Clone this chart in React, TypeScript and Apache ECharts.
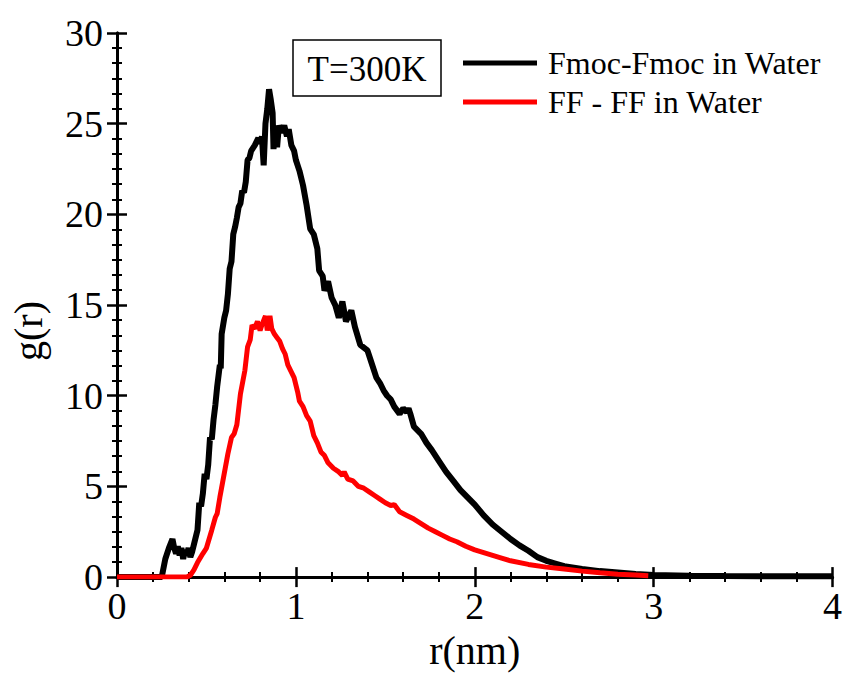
import React, { useEffect, useRef } from "react";
import * as echarts from "echarts";

const xTicks = [0, 1, 2, 3, 4];
const yTicks = [0, 5, 10, 15, 20, 25, 30];

const seriesNames = ["Fmoc-Fmoc in Water", "FF - FF in Water"];
const annotation = "T=300K";

const rBlack = [0, 0.25, 0.27, 0.29, 0.31, 0.32, 0.33, 0.34, 0.35, 0.36, 0.37, 0.38, 0.39, 0.40, 0.41, 0.42, 0.43, 0.45, 0.46, 0.47, 0.48, 0.49, 0.50, 0.51, 0.52, 0.53, 0.54, 0.55, 0.56, 0.575, 0.58, 0.585, 0.60, 0.61, 0.62, 0.63, 0.64, 0.65, 0.66, 0.67, 0.68, 0.69, 0.70, 0.71, 0.72, 0.73, 0.74, 0.75, 0.77, 0.79, 0.80, 0.81, 0.82, 0.83, 0.84, 0.85, 0.86, 0.87, 0.875, 0.885, 0.895, 0.905, 0.92, 0.935, 0.95, 0.96, 0.975, 0.99, 1.00, 1.02, 1.04, 1.06, 1.08, 1.10, 1.12, 1.13, 1.15, 1.16, 1.18, 1.20, 1.22, 1.24, 1.26, 1.28, 1.31, 1.33, 1.36, 1.40, 1.42, 1.45, 1.47, 1.49, 1.51, 1.53, 1.55, 1.58, 1.60, 1.62, 1.63, 1.64, 1.66, 1.70, 1.73, 1.76, 1.80, 1.84, 1.88, 1.92, 1.96, 2.00, 2.05, 2.10, 2.15, 2.20, 2.25, 2.30, 2.35, 2.40, 2.45, 2.50, 2.60, 2.70, 2.80, 2.90, 3.00, 3.20, 3.40, 3.60, 3.80, 4.00];
const gBlack = [0, 0, 1.0, 1.6, 2.1, 1.6, 1.3, 1.7, 1.2, 1.6, 1.0, 1.5, 1.2, 1.6, 1.1, 1.4, 1.8, 2.6, 4.1, 3.9, 4.6, 5.7, 5.4, 6.2, 7.7, 7.6, 8.7, 9.5, 10.5, 11.7, 11.5, 13.4, 14.3, 14.7, 15.6, 17.0, 17.4, 18.9, 19.3, 19.8, 20.4, 20.6, 21.3, 21.2, 21.8, 23.0, 23.1, 23.5, 23.8, 24.2, 23.9, 24.3, 22.7, 25.0, 25.8, 26.9, 26.3, 25.6, 23.6, 24.8, 23.7, 24.9, 24.5, 24.9, 24.3, 24.7, 23.8, 23.5, 23.0, 22.4, 21.6, 20.5, 19.2, 18.9, 18.1, 16.9, 16.6, 15.8, 16.3, 15.4, 15.0, 14.3, 15.2, 14.1, 14.7, 13.8, 12.8, 12.5, 11.9, 11.0, 10.7, 10.3, 10.0, 9.8, 9.4, 9.0, 9.3, 9.1, 9.3, 9.0, 8.3, 7.9, 7.4, 7.0, 6.4, 5.8, 5.3, 4.8, 4.4, 4.0, 3.4, 2.9, 2.5, 2.1, 1.75, 1.45, 1.1, 0.9, 0.75, 0.6, 0.45, 0.33, 0.25, 0.17, 0.12, 0.08, 0.06, 0.05, 0.05, 0.05];

const rRed = [0, 0.39, 0.41, 0.43, 0.45, 0.48, 0.50, 0.53, 0.55, 0.56, 0.575, 0.59, 0.605, 0.62, 0.64, 0.655, 0.67, 0.69, 0.715, 0.73, 0.745, 0.755, 0.77, 0.785, 0.80, 0.81, 0.83, 0.84, 0.855, 0.865, 0.88, 0.895, 0.91, 0.925, 0.94, 0.955, 0.97, 0.99, 1.01, 1.02, 1.04, 1.06, 1.08, 1.10, 1.12, 1.14, 1.16, 1.18, 1.21, 1.24, 1.26, 1.27, 1.29, 1.32, 1.35, 1.38, 1.41, 1.44, 1.47, 1.50, 1.53, 1.55, 1.58, 1.62, 1.66, 1.70, 1.74, 1.78, 1.82, 1.86, 1.90, 1.95, 2.00, 2.05, 2.10, 2.15, 2.20, 2.30, 2.40, 2.50, 2.60, 2.70, 2.80, 2.90, 2.97];
const gRed = [0, 0, 0.1, 0.4, 0.8, 1.3, 1.6, 2.6, 3.3, 3.5, 4.4, 5.2, 6.0, 6.8, 7.7, 7.9, 8.4, 10.1, 11.4, 12.7, 13.1, 13.9, 13.7, 14.1, 13.6, 13.9, 14.4, 13.6, 14.4, 13.7, 13.4, 13.2, 13.0, 12.6, 12.3, 11.7, 11.4, 11.0, 10.2, 9.7, 9.4, 8.9, 8.6, 7.8, 7.4, 6.9, 6.7, 6.3, 6.0, 5.8, 5.6, 5.8, 5.4, 5.3, 5.0, 4.9, 4.7, 4.5, 4.3, 4.1, 3.95, 4.0, 3.6, 3.4, 3.2, 2.95, 2.7, 2.5, 2.3, 2.1, 1.95, 1.7, 1.5, 1.35, 1.2, 1.05, 0.9, 0.7, 0.55, 0.45, 0.33, 0.24, 0.16, 0.12, 0.08];

const FONT = "Liberation Serif";

export default function App() {
  const ref = useRef<HTMLDivElement>(null);
  useEffect(() => {
    if (!ref.current) return;
    const chart = echarts.init(ref.current, null, { renderer: "svg" });
    const xMin = xTicks[0];
    const xMax = xTicks[xTicks.length - 1];
    const yMin = yTicks[0];
    const yMax = yTicks[yTicks.length - 1];
    const axisLine = { show: true, lineStyle: { color: "#000", width: 3 } };
    const axisTick = { show: true, inside: true, length: 10, lineStyle: { color: "#000", width: 2.5 } };
    const minorBase = { show: true, length: 5, lineStyle: { color: "#000", width: 2 } };
    chart.setOption({
      animation: false,
      backgroundColor: "#fff",
      grid: { left: 117, right: 12, top: 33, bottom: 94 },
      legend: {
        orient: "vertical",
        left: 463,
        top: 47,
        padding: 0,
        itemWidth: 74,
        itemHeight: 5,
        itemGap: 7,
        icon: "rect",
        data: seriesNames,
        textStyle: { fontFamily: FONT, fontSize: 32, color: "#000", padding: [0, 0, 0, 6] },
      },
      xAxis: [
        {
          type: "value",
          min: xMin,
          max: xMax,
          interval: 1,
          position: "bottom",
          name: "r(nm)",
          nameLocation: "middle",
          nameGap: 40,
          nameTextStyle: { fontFamily: FONT, fontSize: 40, color: "#000" },
          axisLabel: { fontFamily: FONT, fontSize: 38, color: "#000", margin: 10 },
          axisLine,
          axisTick,
          minorTick: { ...minorBase, splitNumber: 5 },
          splitLine: { show: false },
        },
        {
          type: "value",
          min: xMin,
          max: xMax,
          interval: 1,
          position: "top",
          axisLabel: { show: false },
          axisLine,
          axisTick,
          minorTick: { ...minorBase, splitNumber: 5 },
          splitLine: { show: false },
        },
      ],
      yAxis: [
        {
          type: "value",
          min: yMin,
          max: yMax,
          interval: 5,
          position: "left",
          axisLabel: { fontFamily: FONT, fontSize: 38, color: "#000", margin: 14 },
          axisLine,
          axisTick,
          minorTick: { ...minorBase, splitNumber: 6 },
          splitLine: { show: false },
        },
        {
          type: "value",
          min: yMin,
          max: yMax,
          interval: 5,
          position: "right",
          axisLabel: { show: false },
          axisLine,
          axisTick,
          minorTick: { ...minorBase, splitNumber: 6 },
          splitLine: { show: false },
        },
      ],
      graphic: [
        {
          type: "text",
          x: 28,
          y: 331,
          rotation: Math.PI / 2,
          style: { text: "g(r)", fontFamily: FONT, fontSize: 40, fill: "#000", align: "center", verticalAlign: "middle" },
        },
        {
          type: "rect",
          shape: { x: 293, y: 40, width: 148, height: 56 },
          style: { fill: "#fff", stroke: "#000", lineWidth: 1.5 },
        },
        {
          type: "text",
          x: 367,
          y: 69,
          style: { text: annotation, fontFamily: FONT, fontSize: 35, fill: "#000", align: "center", verticalAlign: "middle" },
        },
      ],
      series: [
        {
          name: seriesNames[0],
          type: "line",
          xAxisIndex: 0,
          yAxisIndex: 0,
          showSymbol: false,
          symbol: "none",
          color: "#000",
          lineStyle: { color: "#000", width: 6 },
          data: rBlack.map((r, i) => [r, gBlack[i]]),
          z: 2,
        },
        {
          name: seriesNames[1],
          type: "line",
          xAxisIndex: 0,
          yAxisIndex: 0,
          showSymbol: false,
          symbol: "none",
          color: "#ff0000",
          lineStyle: { color: "#ff0000", width: 5 },
          data: rRed.map((r, i) => [r, gRed[i]]),
          z: 3,
        },
      ],
    });
    return () => chart.dispose();
  }, []);
  return <div ref={ref} style={{ width: 845, height: 675, position: "absolute", left: 0, top: 0 }} />;
}
